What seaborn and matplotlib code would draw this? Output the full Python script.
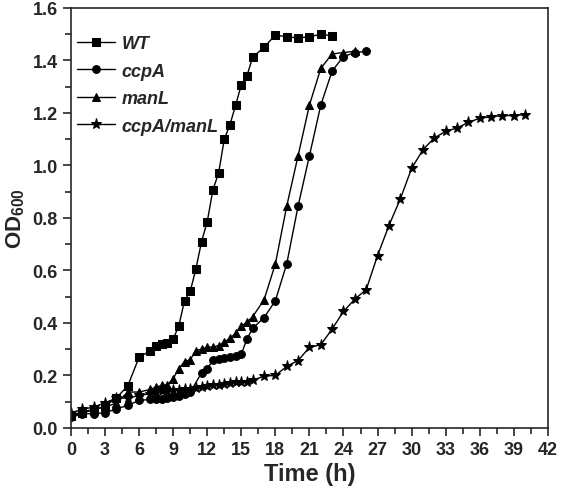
import matplotlib
matplotlib.use("Agg")
import matplotlib.pyplot as plt
import seaborn as sns
import pandas as pd
from matplotlib import font_manager
from matplotlib.ticker import MultipleLocator

# growth curves
wt_t = [0, 1, 2, 3, 4, 5, 6, 7, 7.5, 8, 8.5, 9, 9.5, 10, 10.5, 11, 11.5, 12, 12.5, 13,
        13.5, 14, 14.5, 15, 15.5, 16, 17, 18, 19, 20, 21, 22, 23]
wt_od = [0.045, 0.058, 0.069, 0.083, 0.115, 0.16, 0.27, 0.294, 0.313, 0.319, 0.325, 0.338,
         0.39, 0.485, 0.52, 0.606, 0.71, 0.786, 0.907, 0.971, 1.10, 1.155, 1.23, 1.307,
         1.342, 1.412, 1.45, 1.497, 1.49, 1.486, 1.49, 1.50, 1.494]

ccpa_t = [0, 1, 2, 3, 4, 5, 6, 7, 7.5, 8, 8.5, 9, 9.5, 10, 10.5, 11.5, 12, 12.5, 13, 13.5,
          14, 14.5, 15, 15.5, 16, 17, 18, 19, 20, 21, 22, 23, 24, 25, 26]
ccpa_od = [0.04, 0.054, 0.055, 0.058, 0.073, 0.086, 0.105, 0.109, 0.111, 0.112, 0.115, 0.119,
           0.122, 0.13, 0.136, 0.21, 0.225, 0.259, 0.263, 0.266, 0.269, 0.273, 0.282, 0.339,
           0.38, 0.42, 0.485, 0.625, 0.845, 1.037, 1.23, 1.36, 1.415, 1.43, 1.435]

manl_t = [0, 1, 2, 3, 4, 5, 6, 7, 7.5, 8, 8.5, 9, 9.5, 10, 10.5, 11, 11.5, 12, 12.5, 13,
          13.5, 14, 14.5, 15, 15.5, 16, 17, 18, 19, 20, 21, 22, 23, 24, 25]
manl_od = [0.048, 0.061, 0.071, 0.08, 0.095, 0.137, 0.137, 0.147, 0.156, 0.162, 0.165, 0.188,
           0.226, 0.253, 0.26, 0.295, 0.30, 0.308, 0.308, 0.314, 0.327, 0.342, 0.361, 0.388,
           0.403, 0.424, 0.488, 0.625, 0.845, 1.037, 1.23, 1.37, 1.425, 1.43, 1.435]

dko_t = [0, 1, 2, 3, 4, 5, 6, 7, 7.5, 8, 8.5, 9, 9.5, 10, 10.5, 11, 11.5, 12, 12.5, 13,
         13.5, 14, 14.5, 15, 15.5, 16, 17, 18, 19, 20, 21, 22, 23, 24, 25, 26, 27, 28, 29,
         30, 31, 32, 33, 34, 35, 36, 37, 38, 39, 40]
dko_od = [0.058, 0.071, 0.08, 0.096, 0.114, 0.114, 0.124, 0.131, 0.137, 0.14, 0.14, 0.143,
          0.143, 0.147, 0.15, 0.154, 0.156, 0.159, 0.163, 0.165, 0.169, 0.171, 0.175, 0.175,
          0.177, 0.181, 0.198, 0.2, 0.235, 0.257, 0.307, 0.317, 0.377, 0.444, 0.491, 0.527,
          0.657, 0.771, 0.872, 0.989, 1.06, 1.105, 1.13, 1.143, 1.164, 1.18, 1.186, 1.19,
          1.19, 1.194]

strains = ["WT", "ccpA", "manL", "ccpA/manL"]
markers = ["s", "o", "^", "*"]
msizes = [5.2, 5.6, 6.2, 8.0]

df = pd.concat([
    pd.DataFrame({"time": wt_t, "od": wt_od, "strain": "WT"}),
    pd.DataFrame({"time": ccpa_t, "od": ccpa_od, "strain": "ccpA"}),
    pd.DataFrame({"time": manl_t, "od": manl_od, "strain": "manL"}),
    pd.DataFrame({"time": dko_t, "od": dko_od, "strain": "ccpA/manL"}),
])

sns.set_style("ticks")
names = {f.name for f in font_manager.fontManager.ttflist}
narrow = "Liberation Sans Narrow" if "Liberation Sans Narrow" in names else "Liberation Sans"
plt.rcParams["font.family"] = ["Liberation Sans", "DejaVu Sans"]
plt.rcParams["mathtext.fontset"] = "custom"
plt.rcParams["mathtext.rm"] = "Liberation Sans:bold"
plt.rcParams["mathtext.bf"] = "Liberation Sans:bold"

fig = plt.figure(figsize=(5.66, 4.89), dpi=100)
ax = fig.add_axes([0.1254, 0.1227, 0.8426, 0.859])

for s, m, ms in zip(strains, markers, msizes):
    sub = df[df["strain"] == s]
    sns.lineplot(data=sub, x="time", y="od", marker=m, markersize=ms, color="black",
                 linewidth=1.0, markeredgecolor="black", label=s, ax=ax)

ax.set_xlim(0, 42)
ax.set_ylim(0, 1.6)
ax.xaxis.set_major_locator(MultipleLocator(3))
ax.xaxis.set_minor_locator(MultipleLocator(1.5))
ax.yaxis.set_minor_locator(MultipleLocator(0.1))
ax.set_yticks([0, 0.2, 0.4, 0.6, 0.8, 1.0, 1.2, 1.4, 1.6])
ax.set_yticklabels(["0.0", "0.2", "0.4", "0.6", "0.8", "1.0", "1.2", "1.4", "1.6"])
ax.tick_params(which="major", direction="out", length=6, width=1.2)
ax.tick_params(which="minor", direction="out", length=4, width=1.2)
for lab in ax.get_xticklabels() + ax.get_yticklabels():
    lab.set_fontfamily(narrow)
    lab.set_fontweight("bold")
    lab.set_fontsize(13)
for sp in ax.spines.values():
    sp.set_linewidth(1.2)
    sp.set_visible(True)

ax.set_xlabel("Time (h)", fontsize=17, fontweight="bold", family=narrow, labelpad=3)
ax.set_ylabel(r"OD$_{600}$", fontsize=16, fontweight="bold", family=narrow, labelpad=4)

leg = ax.legend(loc="upper left", bbox_to_anchor=(0.0126, 0.935), frameon=False,
                handlelength=2.1, handletextpad=0.38, labelspacing=0.58,
                borderpad=0, borderaxespad=0,
                prop={"size": 13, "weight": "bold", "style": "italic"})

fig.savefig("out.png", dpi=100)
